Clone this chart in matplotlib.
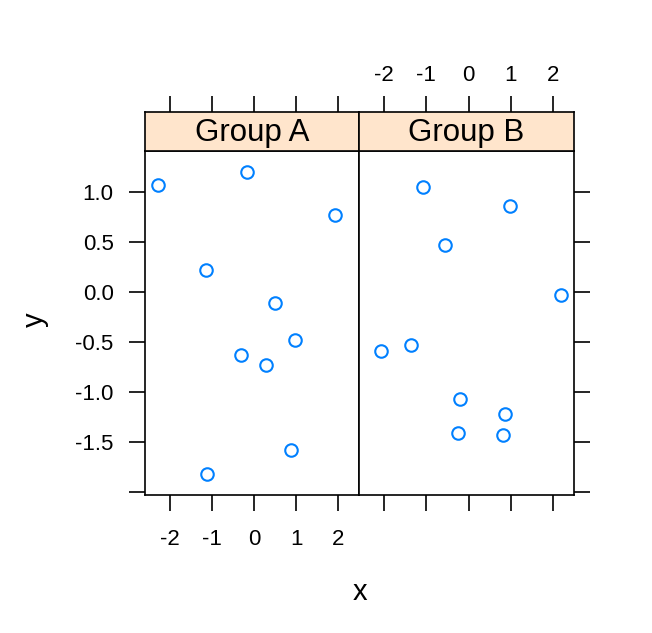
import matplotlib
matplotlib.use("Agg")
import matplotlib.pyplot as plt
import numpy as np

plt.rcParams['font.family'] = ['Liberation Sans', 'DejaVu Sans']

groups = ["Group A", "Group B"]
xa = [-2.28, -0.17, 1.93, -1.14, 0.50, 0.96, -0.30, 0.28, 0.88, -1.11]
ya = [1.073, 1.198, 0.769, 0.218, -0.105, -0.475, -0.624, -0.723, -1.574, -1.815]
xb = [-1.07, 0.97, -0.57, 2.18, -2.07, -1.36, -0.21, 0.85, -0.24, 0.81]
yb = [1.047, 0.855, 0.472, -0.033, -0.590, -0.528, -1.065, -1.218, -1.402, -1.426]
xticks = [-2, -1, 0, 1, 2]
yticks = [-2.0, -1.5, -1.0, -0.5, 0.0, 0.5, 1.0]
ytick_labels = ["", "-1.5", "-1.0", "-0.5", "0.0", "0.5", "1.0"]

allx = np.array(xa + xb)
ally = np.array(ya + yb)
def lims(v):
    r = v.max() - v.min()
    return v.min() - 0.07 * r, v.max() + 0.07 * r
xlim = lims(allx)
ylim = lims(ally)

W, H = 652, 633
fig = plt.figure(figsize=(W / 100, H / 100), dpi=100)

pcol = "#0080ff"
strip_col = "#ffe5cc"
TL = 11.5
LW = 1.2
FS_TICK = 16
FS_STRIP = 22.5
FS_LAB = 21

panels = [(145, 359), (359, 574)]
top_px, bot_px, strip_top_px = 151, 495, 112
data = [(xa, ya), (xb, yb)]

for i, ((l, r), (xs, ys), g) in enumerate(zip(panels, data, groups)):
    ax = fig.add_axes([l / W, 1 - bot_px / H, (r - l) / W, (bot_px - top_px) / H])
    ax.plot(xs, ys, 'o', mfc='none', mec=pcol, ms=9, mew=1.5, clip_on=False)
    ax.set_xlim(xlim)
    ax.set_ylim(ylim)
    ax.set_xticks(xticks)
    ax.set_yticks(yticks)
    for s in ax.spines.values():
        s.set_linewidth(LW)
    ax.tick_params(direction='out', length=TL, width=LW, labelsize=FS_TICK, pad=11)
    ax.tick_params(axis='x', pad=13)
    if i == 0:
        ax.set_yticklabels(ytick_labels)
        ax.tick_params(axis='y', left=True, labelleft=True, right=False)
        ax.tick_params(axis='x', bottom=True, labelbottom=True)
        ax.set_xticklabels([str(t) for t in xticks])
    else:
        ax.tick_params(axis='y', left=False, labelleft=False, right=True, labelright=False)
        ax.tick_params(axis='x', bottom=True, labelbottom=False)
    # strip
    sa = fig.add_axes([l / W, 1 - top_px / H, (r - l) / W, (top_px - strip_top_px) / H])
    sa.set_facecolor(strip_col)
    sa.set_xlim(xlim)
    sa.set_xticks(xticks)
    sa.set_yticks([])
    for s in sa.spines.values():
        s.set_linewidth(LW)
    sa.tick_params(axis='x', direction='out', length=TL, width=LW, labelsize=FS_TICK,
                   bottom=False, labelbottom=False, top=True, labeltop=(i == 1), pad=7)
    if i == 1:
        sa.set_xticklabels([str(t) for t in xticks])
    sa.text(0.5, 0.47, g, transform=sa.transAxes, ha='center', va='center', fontsize=FS_STRIP)

fig.text(360 / W, 1 - 592 / H, "x", ha='center', va='center', fontsize=FS_LAB)
fig.text(35 / W, 1 - 320 / H, "y", ha='center', va='center', fontsize=FS_LAB, rotation=90)

fig.savefig("out.png", dpi=100)
